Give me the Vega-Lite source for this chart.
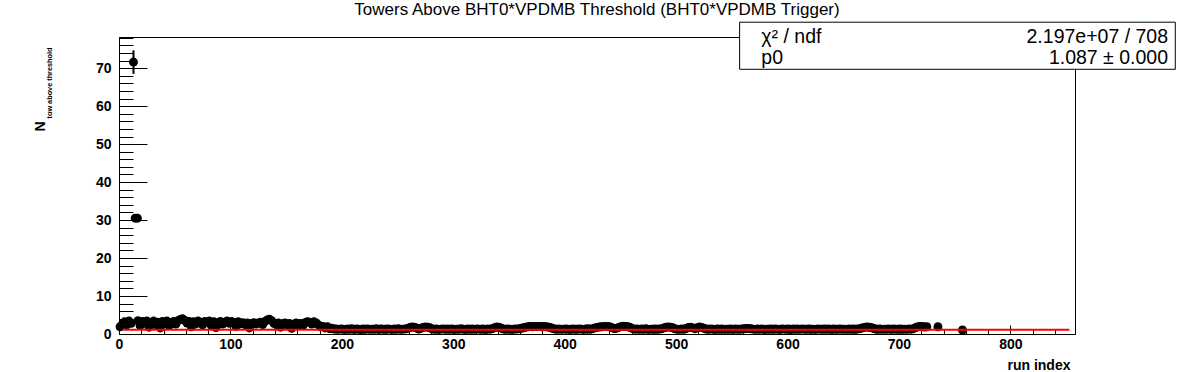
{
"$schema": "https://vega.github.io/schema/vega-lite/v6.json",
"width": 956, "height": 297,
"autosize": {"type": "none"},
"padding": {"left": 119, "top": 37, "right": 121, "bottom": 38},
"background": "white",
"config": {"view": {"stroke": "black", "strokeWidth": 1}, "font": "Liberation Sans", "axis": {"grid": false, "domainColor": "black", "tickColor": "black", "labelColor": "black", "titleColor": "black"}},
"title": {"text": "Towers Above BHT0*VPDMB Threshold (BHT0*VPDMB Trigger)", "font": "Liberation Sans", "fontSize": 17, "fontWeight": "normal", "color": "black", "anchor": "middle", "baseline": "alphabetic", "offset": -10},
"datasets": {
"points": [
{"x":1,"y":1.9},{"x":3,"y":2.6},{"x":5,"y":3.2},{"x":7,"y":2.4},{"x":9,"y":3.4},{"x":11,"y":2.8},{"x":13,"y":71.6},{"x":14.5,"y":30.5},{"x":16.5,"y":30.5},{"x":17,"y":3.5},{"x":19,"y":2.2},{"x":21,"y":3.3},{"x":23,"y":2.9},{"x":25,"y":3.4},{"x":27,"y":1.8},{"x":29,"y":3.0},{"x":31,"y":3.4},{"x":33,"y":2.5},{"x":35,"y":3.1},{"x":37,"y":1.6},{"x":39,"y":3.3},{"x":41,"y":2.7},{"x":43,"y":3.4},{"x":45,"y":2.2},{"x":47,"y":3.0},{"x":49,"y":3.3},{"x":51,"y":2.6},{"x":53,"y":3.5},{"x":55,"y":3.8},{"x":57,"y":4.0},{"x":59,"y":3.6},{"x":61,"y":2.9},{"x":63,"y":3.3},{"x":65,"y":1.9},{"x":67,"y":3.2},{"x":69,"y":2.7},{"x":71,"y":3.4},{"x":73,"y":3.1},{"x":75,"y":2.4},{"x":77,"y":3.3},{"x":79,"y":3.0},{"x":81,"y":3.4},{"x":83,"y":2.2},{"x":85,"y":3.2},{"x":87,"y":1.7},{"x":89,"y":3.0},{"x":91,"y":3.3},{"x":93,"y":2.6},{"x":95,"y":3.1},{"x":97,"y":3.4},{"x":99,"y":2.8},{"x":101,"y":3.3},{"x":103,"y":3.0},{"x":105,"y":2.0},{"x":107,"y":3.2},{"x":109,"y":2.7},{"x":111,"y":3.0},{"x":113,"y":2.5},{"x":115,"y":2.9},{"x":117,"y":1.6},{"x":119,"y":2.8},{"x":121,"y":3.0},{"x":123,"y":2.6},{"x":125,"y":2.9},{"x":127,"y":3.1},{"x":129,"y":2.5},{"x":131,"y":3.3},{"x":133,"y":3.7},{"x":135,"y":3.9},{"x":137,"y":3.5},{"x":139,"y":2.8},{"x":141,"y":2.5},{"x":143,"y":2.9},{"x":145,"y":1.8},{"x":147,"y":2.7},{"x":149,"y":2.9},{"x":151,"y":2.4},{"x":153,"y":2.8},{"x":155,"y":1.5},{"x":157,"y":2.6},{"x":159,"y":2.9},{"x":161,"y":2.3},{"x":163,"y":2.8},{"x":165,"y":2.2},{"x":167,"y":3.0},{"x":169,"y":3.2},{"x":171,"y":3.1},{"x":173,"y":2.6},{"x":175,"y":3.2},{"x":177,"y":2.9},{"x":179,"y":2.4},{"x":181,"y":1.9},{"x":183,"y":2.0},{"x":185,"y":1.6},{"x":187,"y":1.9},{"x":189,"y":1.4},{"x":191,"y":1.5},{"x":193,"y":1.3},
{"x":195,"y":1.3},{"x":197,"y":1.22},{"x":199,"y":1.35},{"x":201,"y":1.28},{"x":203,"y":1.2},{"x":205,"y":1.33},{"x":207,"y":1.25},{"x":209,"y":1.38},{"x":211,"y":1.21},{"x":213,"y":1.3},{"x":215,"y":1.27},{"x":217,"y":1.19},{"x":219,"y":1.32},{"x":221,"y":1.26},{"x":223,"y":1.35},{"x":225,"y":1.22},{"x":227,"y":1.29},{"x":229,"y":1.24},{"x":231,"y":1.36},{"x":233,"y":1.2},{"x":235,"y":1.31},{"x":237,"y":1.27},{"x":239,"y":1.23},{"x":241,"y":1.34},{"x":243,"y":1.28},{"x":245,"y":1.21},{"x":247,"y":1.3},{"x":249,"y":1.25},{"x":251,"y":1.37},{"x":253,"y":1.22},{"x":255,"y":1.29},{"x":257,"y":1.33},{"x":259,"y":1.45},{"x":261,"y":1.7},{"x":263,"y":1.85},{"x":265,"y":1.8},{"x":267,"y":1.6},{"x":269,"y":1.3},{"x":271,"y":1.5},{"x":273,"y":1.75},{"x":275,"y":1.85},{"x":277,"y":1.8},{"x":279,"y":1.65},{"x":281,"y":1.35},{"x":283,"y":1.26},{"x":285,"y":1.31},{"x":287,"y":1.2},{"x":289,"y":1.28},{"x":291,"y":1.35},{"x":293,"y":1.23},{"x":295,"y":1.3},{"x":297,"y":1.26},{"x":299,"y":1.34},{"x":301,"y":1.21},{"x":303,"y":1.29},{"x":305,"y":1.24},{"x":307,"y":1.36},{"x":309,"y":1.27},{"x":311,"y":1.2},{"x":313,"y":1.32},{"x":315,"y":1.25},{"x":317,"y":1.3},{"x":319,"y":1.22},{"x":321,"y":1.35},{"x":323,"y":1.28},{"x":325,"y":1.24},{"x":327,"y":1.31},{"x":329,"y":1.19},{"x":331,"y":1.33},{"x":333,"y":1.27},{"x":335,"y":1.4},{"x":337,"y":1.65},{"x":339,"y":1.85},{"x":341,"y":1.8},{"x":343,"y":1.55},{"x":345,"y":1.3},{"x":347,"y":1.24},{"x":349,"y":1.32},{"x":351,"y":1.27},{"x":353,"y":1.21},{"x":355,"y":1.34},{"x":357,"y":1.29},{"x":359,"y":1.4},{"x":361,"y":1.5},{"x":363,"y":1.65},{"x":365,"y":1.8},{"x":367,"y":1.9},{"x":369,"y":1.95},{"x":371,"y":1.9},{"x":373,"y":2.0},{"x":375,"y":1.95},{"x":377,"y":2.0},{"x":379,"y":1.92},{"x":381,"y":1.98},{"x":383,"y":1.9},{"x":385,"y":1.85},{"x":387,"y":1.75},{"x":389,"y":1.5},{"x":391,"y":1.3},{"x":393,"y":1.25},{"x":395,"y":1.33},{"x":397,"y":1.22},{"x":399,"y":1.29},{"x":401,"y":1.35},{"x":403,"y":1.26},{"x":405,"y":1.2},{"x":407,"y":1.31},{"x":409,"y":1.27},{"x":411,"y":1.23},{"x":413,"y":1.34},{"x":415,"y":1.28},{"x":417,"y":1.21},{"x":419,"y":1.3},{"x":421,"y":1.36},{"x":423,"y":1.25},{"x":425,"y":1.4},{"x":427,"y":1.6},{"x":429,"y":1.75},{"x":431,"y":1.85},{"x":433,"y":1.9},{"x":435,"y":1.95},{"x":437,"y":2.0},{"x":439,"y":1.95},{"x":441,"y":1.85},{"x":443,"y":1.6},{"x":445,"y":1.4},{"x":447,"y":1.55},{"x":449,"y":1.8},{"x":451,"y":1.95},{"x":453,"y":2.05},{"x":455,"y":2.0},{"x":457,"y":1.9},{"x":459,"y":1.7},{"x":461,"y":1.4},{"x":463,"y":1.27},{"x":465,"y":1.33},{"x":467,"y":1.22},{"x":469,"y":1.3},{"x":471,"y":1.25},{"x":473,"y":1.36},{"x":475,"y":1.21},{"x":477,"y":1.29},{"x":479,"y":1.26},{"x":481,"y":1.34},{"x":483,"y":1.23},{"x":485,"y":1.31},{"x":487,"y":1.4},{"x":489,"y":1.6},{"x":491,"y":1.8},{"x":493,"y":1.85},{"x":495,"y":1.8},{"x":497,"y":1.65},{"x":499,"y":1.35},{"x":501,"y":1.28},{"x":503,"y":1.22},{"x":505,"y":1.32},{"x":507,"y":1.26},{"x":509,"y":1.45},{"x":511,"y":1.7},{"x":513,"y":1.8},{"x":515,"y":1.6},{"x":517,"y":1.4},{"x":519,"y":1.65},{"x":521,"y":1.85},{"x":523,"y":1.75},{"x":525,"y":1.5},{"x":527,"y":1.3},{"x":529,"y":1.24},{"x":531,"y":1.33},{"x":533,"y":1.27},{"x":535,"y":1.2},{"x":537,"y":1.31},{"x":539,"y":1.25},{"x":541,"y":1.35},{"x":543,"y":1.22},{"x":545,"y":1.29},{"x":547,"y":1.26},{"x":549,"y":1.34},{"x":551,"y":1.21},{"x":553,"y":1.3},{"x":555,"y":1.27},{"x":557,"y":1.23},{"x":559,"y":1.33},{"x":561,"y":1.38},{"x":563,"y":1.45},{"x":565,"y":1.47},{"x":567,"y":1.4},{"x":569,"y":1.28},{"x":571,"y":1.22},{"x":573,"y":1.31},{"x":575,"y":1.26},{"x":577,"y":1.35},{"x":579,"y":1.2},{"x":581,"y":1.29},{"x":583,"y":1.25},{"x":585,"y":1.32},{"x":587,"y":1.23},{"x":589,"y":1.3},{"x":591,"y":1.27},{"x":593,"y":1.21},{"x":595,"y":1.34},{"x":597,"y":1.28},{"x":599,"y":1.24},{"x":601,"y":1.31},{"x":603,"y":1.19},{"x":605,"y":1.33},{"x":607,"y":1.26},{"x":609,"y":1.3},{"x":611,"y":1.22},{"x":613,"y":1.35},{"x":615,"y":1.27},{"x":617,"y":1.23},{"x":619,"y":1.32},{"x":621,"y":1.25},{"x":623,"y":1.29},{"x":625,"y":1.21},{"x":627,"y":1.34},{"x":629,"y":1.28},{"x":631,"y":1.24},{"x":633,"y":1.3},{"x":635,"y":1.26},{"x":637,"y":1.33},{"x":639,"y":1.2},{"x":641,"y":1.31},{"x":643,"y":1.27},{"x":645,"y":1.23},{"x":647,"y":1.35},{"x":649,"y":1.25},{"x":651,"y":1.29},{"x":653,"y":1.22},{"x":655,"y":1.32},{"x":657,"y":1.26},{"x":659,"y":1.3},{"x":661,"y":1.24},{"x":663,"y":1.34},{"x":665,"y":1.4},{"x":667,"y":1.6},{"x":669,"y":1.75},{"x":671,"y":1.85},{"x":673,"y":1.8},{"x":675,"y":1.7},{"x":677,"y":1.5},{"x":679,"y":1.3},{"x":681,"y":1.25},{"x":683,"y":1.33},{"x":685,"y":1.22},{"x":687,"y":1.29},{"x":689,"y":1.26},{"x":691,"y":1.35},{"x":693,"y":1.21},{"x":695,"y":1.3},{"x":697,"y":1.27},{"x":699,"y":1.24},{"x":701,"y":1.32},{"x":703,"y":1.25},{"x":705,"y":1.29},{"x":707,"y":1.22},{"x":709,"y":1.34},{"x":711,"y":1.27},{"x":713,"y":1.4},{"x":715,"y":1.7},{"x":717,"y":1.9},{"x":719,"y":2.0},{"x":721,"y":1.95},{"x":723,"y":1.85},{"x":725,"y":1.9},{"x":735,"y":1.9},{"x":757,"y":1.05}
],
"fit": [{"start": 3.5, "end": 853, "p0": 1.087}],
"spike": [{"x": 13, "lo": 68.5, "hi": 74.7}],
"stats": [{"names": "χ² / ndf\np0", "values": "2.197e+07 / 708\n1.087 ± 0.000"}]
},
"layer": [
{"data": {"name": "points"}, "mark": {"type": "circle", "size": 80, "color": "black", "opacity": 1},
 "encoding": {
  "x": {"field": "x", "type": "quantitative", "scale": {"domain": [0, 858], "nice": false, "zero": false},
   "axis": {"orient": "bottom", "values": [0,100,200,300,400,500,600,700,800], "tickSize": -9, "labelPadding": 12, "labelFont": "Liberation Sans", "labelFontSize": 14, "labelFontWeight": "bold", "labelFlush": false, "title": "run index", "titleFont": "Liberation Sans", "titleFontSize": 14, "titleFontWeight": "bold", "titleX": 951, "titleY": 35, "titleAlign": "right", "titleBaseline": "alphabetic", "grid": false}},
  "y": {"field": "y", "type": "quantitative", "scale": {"domain": [0, 78.2], "nice": false, "zero": false},
   "axis": {"orient": "left", "values": [0,10,20,30,40,50,60,70], "tickSize": -28, "labelPadding": 36, "labelFont": "Liberation Sans", "labelFontSize": 14, "labelFontWeight": "bold", "labelFlush": false, "title": "N", "titleFont": "Liberation Sans", "titleFontSize": 14, "titleFontWeight": "bold", "titleAngle": 270, "titleX": -79, "titleY": 89, "titleAlign": "center", "titleBaseline": "middle", "grid": false}}
 }},
{"data": {"name": "spike"}, "mark": {"type": "rule", "color": "black", "strokeWidth": 2},
 "encoding": {
  "x": {"field": "x", "type": "quantitative", "axis": {"orient": "bottom", "values": [20,40,60,80,120,140,160,180,220,240,260,280,320,340,360,380,420,440,460,480,520,540,560,580,620,640,660,680,720,740,760,780,820,840], "tickSize": -4.5, "labels": false, "domain": false, "title": null, "grid": false}},
  "y": {"field": "lo", "type": "quantitative", "axis": {"orient": "left", "values": [2,4,6,8,12,14,16,18,22,24,26,28,32,34,36,38,42,44,46,48,52,54,56,58,62,64,66,68,72,74,76,78], "tickSize": -14, "labels": false, "domain": false, "title": "tow above threshold", "titleFont": "Liberation Sans", "titleFontSize": 7.3, "titleFontWeight": "bold", "titleAngle": 270, "titleX": -70, "titleY": 45.5, "titleAlign": "center", "titleBaseline": "middle", "grid": false}},
  "y2": {"field": "hi"}
 }},
{"data": {"name": "fit"}, "mark": {"type": "rule", "color": "#ff0000", "strokeWidth": 2},
 "encoding": {
  "x": {"field": "start", "type": "quantitative", "axis": null},
  "x2": {"field": "end"},
  "y": {"field": "p0", "type": "quantitative", "axis": null}
 }},
{"data": {"name": "stats"}, "mark": {"type": "rect", "fill": "white", "stroke": "black", "strokeWidth": 1},
 "encoding": {
  "x": {"datum": 557, "type": "quantitative", "axis": null},
  "x2": {"datum": 948},
  "y": {"datum": 82.1, "type": "quantitative", "axis": null},
  "y2": {"datum": 69.7}
 }},
{"data": {"name": "stats"}, "mark": {"type": "text", "align": "left", "baseline": "alphabetic", "lineBreak": "\n", "font": "Liberation Sans", "fontSize": 19.5, "lineHeight": 21, "color": "black"},
 "encoding": {
  "x": {"datum": 576.5, "type": "quantitative", "axis": null},
  "y": {"datum": 76.6, "type": "quantitative", "axis": null},
  "text": {"field": "names"}
 }},
{"data": {"name": "stats"}, "mark": {"type": "text", "align": "right", "baseline": "alphabetic", "lineBreak": "\n", "font": "Liberation Sans", "fontSize": 19.5, "lineHeight": 21, "color": "black"},
 "encoding": {
  "x": {"datum": 941.5, "type": "quantitative", "axis": null},
  "y": {"datum": 76.6, "type": "quantitative", "axis": null},
  "text": {"field": "values"}
 }}
],
"resolve": {"axis": {"x": "independent", "y": "independent"}}
}
